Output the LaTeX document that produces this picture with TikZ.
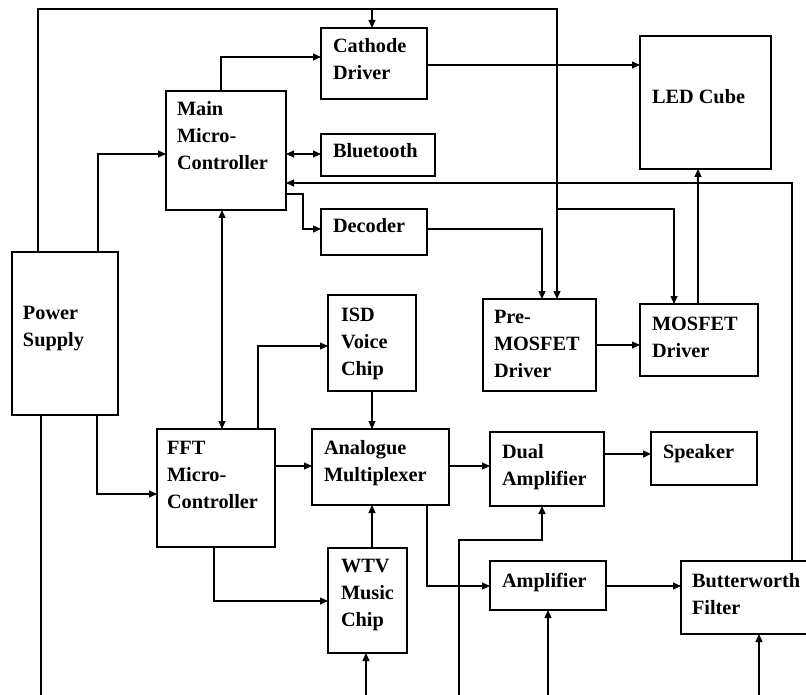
\documentclass[tikz,border=0pt]{standalone}
\usepackage{fontspec}
\setmainfont{Liberation Serif}
\usetikzlibrary{arrows.meta}
\begin{document}
\begin{tikzpicture}[x=1pt,y=-1pt,
  box/.style={draw,line width=1.2pt,rectangle,inner sep=0pt,outer sep=0pt,anchor=north west},
  lbl/.style={anchor=north west,inner sep=0pt,outer sep=0pt,align=left,
    font=\fontsize{20.3}{27}\selectfont\bfseries},
  wire/.style={line width=1.2pt},
  arr/.style={wire,-{Triangle[length=8pt,width=7pt]}},
  arrb/.style={wire,{Triangle[length=8pt,width=7pt]}-{Triangle[length=8pt,width=7pt]}}]
\useasboundingbox (0,0) rectangle (806,695);
% boxes
\node[box,minimum width=106pt,minimum height=71pt] (cath) at (321,28) {};
\node[box,minimum width=120pt,minimum height=119pt] (main) at (166,91) {};
\node[box,minimum width=114pt,minimum height=42pt] (blue) at (321,134) {};
\node[box,minimum width=106pt,minimum height=46pt] (dec) at (321,209) {};
\node[box,minimum width=131pt,minimum height=133pt] (led) at (640,36) {};
\node[box,minimum width=106pt,minimum height=163pt] (ps) at (12,252) {};
\node[box,minimum width=88pt,minimum height=96pt] (isd) at (328,295) {};
\node[box,minimum width=118pt,minimum height=118pt] (fft) at (157,429) {};
\node[box,minimum width=137pt,minimum height=76pt] (ana) at (312,429) {};
\node[box,minimum width=113pt,minimum height=92pt] (pre) at (483,299) {};
\node[box,minimum width=118pt,minimum height=72pt] (mos) at (640,304) {};
\node[box,minimum width=114pt,minimum height=74pt] (dual) at (490,432) {};
\node[box,minimum width=106pt,minimum height=53pt] (spk) at (651,432) {};
\node[box,minimum width=79pt,minimum height=105pt] (wtv) at (328,548) {};
\node[box,minimum width=116pt,minimum height=49pt] (amp) at (490,561) {};
\node[box,minimum width=140pt,minimum height=73pt] (bw) at (681,561) {};
% labels
\node[lbl] (cath-t) at (333,34.1) {\strut Cathode\\\strut Driver};
\node[lbl] (main-t) at (177,97.1) {\strut Main\\\strut Micro-\\\strut Controller};
\node[lbl] (blue-t) at (333,139.1) {\strut Bluetooth};
\node[lbl] (dec-t) at (333,214.1) {\strut Decoder};
\node[lbl] (led-t) at (652,85.1) {\strut LED Cube};
\node[lbl] (ps-t) at (23,300.1) {\strut Power\\\strut Supply};
\node[lbl] (isd-t) at (341,302.1) {\strut ISD\\\strut Voice\\\strut Chip};
\node[lbl] (fft-t) at (167,435.1) {\strut FFT\\\strut Micro-\\\strut Controller};
\node[lbl] (ana-t) at (324,435.1) {\strut Analogue\\\strut Multiplexer};
\node[lbl] (pre-t) at (494,304.1) {\strut Pre-\\\strut MOSFET\\\strut Driver};
\node[lbl] (mos-t) at (652,311.1) {\strut MOSFET\\\strut Driver};
\node[lbl] (dual-t) at (502,439.1) {\strut Dual\\\strut Amplifier};
\node[lbl] (spk-t) at (663,439.1) {\strut Speaker};
\node[lbl] (wtv-t) at (341,553.1) {\strut WTV\\\strut Music\\\strut Chip};
\node[lbl] (amp-t) at (502,568.1) {\strut Amplifier};
\node[lbl] (bw-t) at (692,568.1) {\strut Butterworth\\\strut Filter};
% junctions and free ends
\coordinate (j1) at (372,9);
\coordinate (j2) at (557,209);
\coordinate (b1) at (41,695);
\coordinate (b2) at (366,695);
\coordinate (b3) at (459,695);
\coordinate (b4) at (548,695);
\coordinate (b5) at (759,695);
% connectors
\draw[arr] (ps.north -| 38,0) -- (38,9) -- (557,9) -- (pre.north -| 557,0);
\draw[arr] (j1) -- (cath.north -| 372,0);
\draw[arr] (ps.north -| 98,0) |- (main.west |- 0,154);
\draw[arr] (main.north -| 221,0) |- (cath.west |- 0,57);
\draw[arrb] (main.east |- 0,154) -- (blue.west |- 0,154);
\draw[arr] (bw.north -| 792,0) |- (main.east |- 0,183);
\draw[arr] (main.east |- 0,194) -- (303,194) |- (dec.west |- 0,229);
\draw[arr] (dec.east |- 0,229) -| (pre.north -| 542,0);
\draw[arr] (cath.east |- 0,65) -- (led.west |- 0,65);
\draw[arr] (j2) -| (mos.north -| 674,0);
\draw[arr] (mos.north -| 698,0) -- (led.south -| 698,0);
\draw[arr] (pre.east |- 0,345) -- (mos.west |- 0,345);
\draw[arrb] (main.south -| 222,0) -- (fft.north -| 222,0);
\draw[arr] (ps.south -| 97,0) |- (fft.west |- 0,494);
\draw[wire] (ps.south -| 41,0) -- (b1);
\draw[arr] (fft.north -| 258,0) |- (isd.west |- 0,346);
\draw[arr] (isd.south -| 372,0) -- (ana.north -| 372,0);
\draw[arr] (fft.east |- 0,466) -- (ana.west |- 0,466);
\draw[arr] (fft.south -| 214,0) |- (wtv.west |- 0,601);
\draw[arr] (wtv.north -| 372,0) -- (ana.south -| 372,0);
\draw[arr] (b2) -- (wtv.south -| 366,0);
\draw[arr] (ana.east |- 0,466) -- (dual.west |- 0,466);
\draw[arr] (ana.south -| 427,0) |- (amp.west |- 0,586);
\draw[arr] (dual.east |- 0,454) -- (spk.west |- 0,454);
\draw[arr] (b3) -- (459,540) -| (dual.south -| 542,0);
\draw[arr] (b4) -- (amp.south -| 548,0);
\draw[arr] (amp.east |- 0,586) -- (bw.west |- 0,586);
\draw[arr] (b5) -- (bw.south -| 759,0);
\end{tikzpicture}
\end{document}
